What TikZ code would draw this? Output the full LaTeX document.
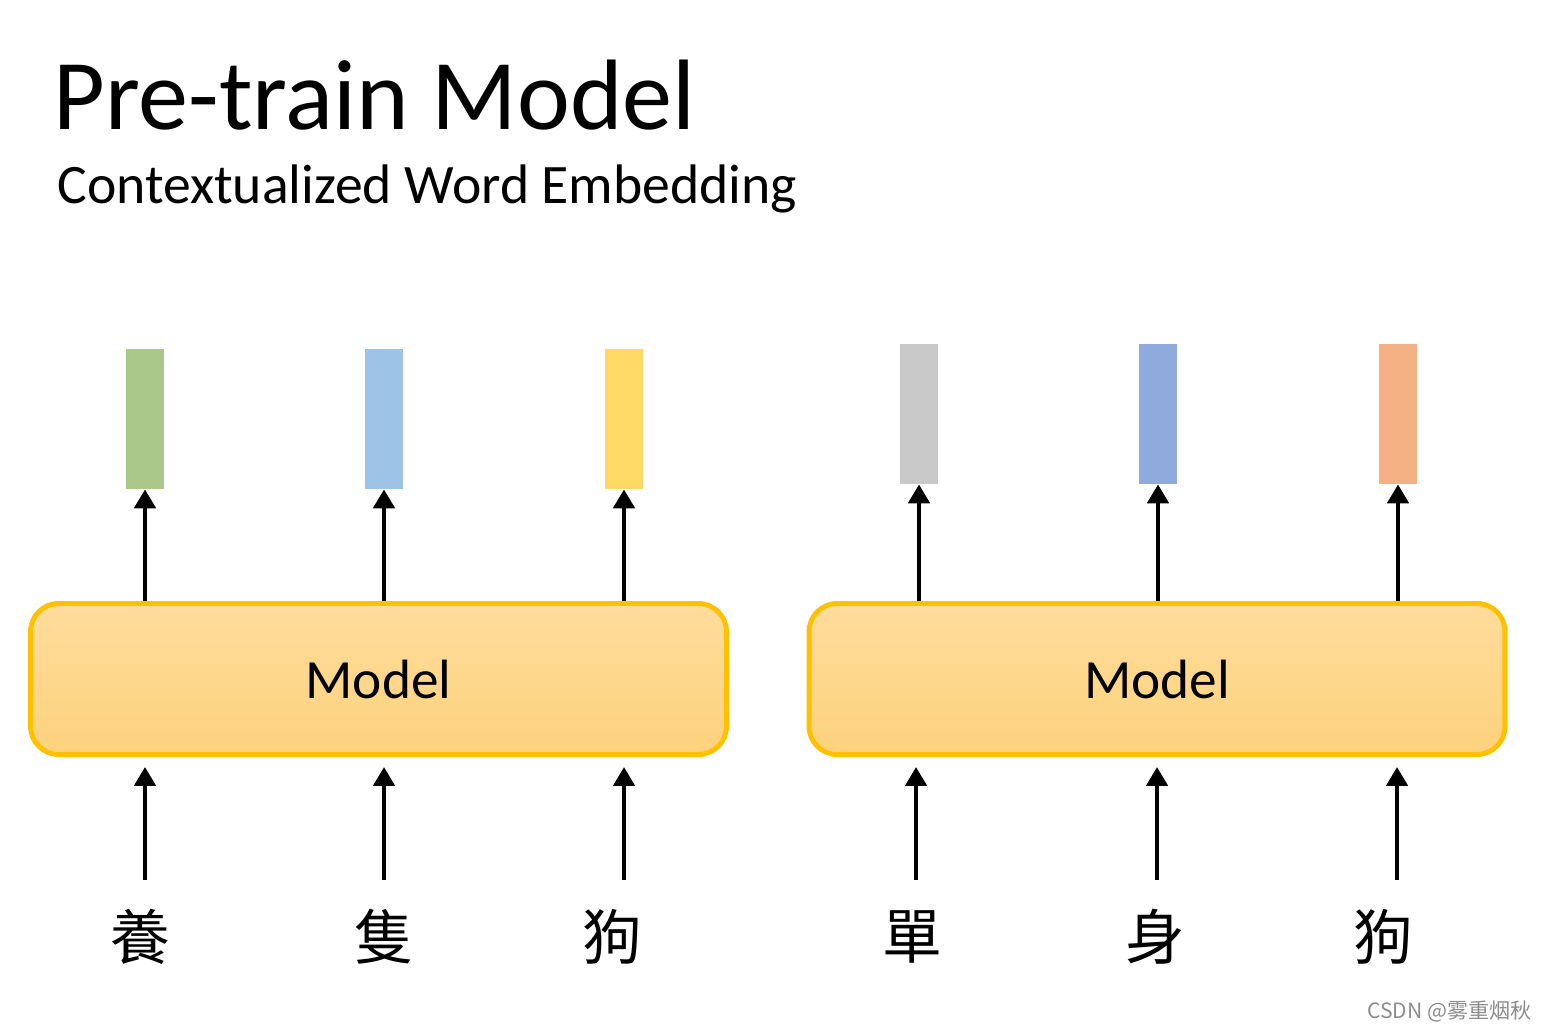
\documentclass[tikz,border=0pt]{standalone}
\usepackage{fontspec}
\setmainfont{Carlito}
\newfontfamily\cjktc{Noto Sans CJK TC}
\newfontfamily\cjksc{Noto Sans CJK SC}
\usetikzlibrary{arrows.meta}
\definecolor{vgreen}{HTML}{A9C88A}
\definecolor{vblue}{HTML}{9DC3E6}
\definecolor{vyellow}{HTML}{FFD966}
\definecolor{vgray}{HTML}{C9C9C9}
\definecolor{vdblue}{HTML}{8FAADC}
\definecolor{vorange}{HTML}{F4B183}
\definecolor{modelline}{HTML}{FFC000}
\definecolor{modeltop}{HTML}{FEDC9C}
\definecolor{modelbot}{HTML}{FDD27C}
\tikzset{
  vec/.style={minimum width=0.76cm, minimum height=2.8cm, inner sep=0pt},
  model/.style={draw=modelline, line width=2.8pt, rounded corners=0.56cm,
    top color=modeltop, bottom color=modelbot,
    minimum width=13.92cm, minimum height=3.02cm,
    font=\fontsize{31.5}{38}\selectfont},
  word/.style={font=\cjktc\fontsize{34}{40}\selectfont, inner sep=0pt},
  arr/.style={-{Triangle[length=0.38cm,width=0.42cm]}, line width=2.8pt}
}
\begin{document}
\begin{tikzpicture}[x=0.02cm, y=-0.02cm]
\useasboundingbox (0,0) rectangle (1547,1030);
% title
\node[anchor=base west, inner sep=0pt, font=\fontsize{57}{66}\selectfont] (title) at (53,130) {Pre-train Model};
\node[anchor=base west, inner sep=0pt, font=\fontsize{31.7}{38}\selectfont] (sub) at (57,204) {Contextualized Word Embedding};
% left model
\node[model] (m1) at (378.5,679) {Model};
\node[vec, fill=vgreen] (v1) at (145,419) {};
\node[vec, fill=vblue] (v2) at (384,419) {};
\node[vec, fill=vyellow] (v3) at (624,419) {};
\node[word] (w1) at (140,937) {養};
\node[word] (w2) at (384,937) {隻};
\node[word] (w3) at (612,937) {狗};
% right model
\node[model] (m2) at (1157,679) {Model};
\node[vec, fill=vgray] (v4) at (919,414) {};
\node[vec, fill=vdblue] (v5) at (1158,414) {};
\node[vec, fill=vorange] (v6) at (1398,414) {};
\node[word] (w4) at (912,937) {單};
\node[word] (w5) at (1155,937) {身};
\node[word] (w6) at (1383,937) {狗};
% arrows up to the vectors
\draw[arr] (v1 |- m1.north) -- (v1.south);
\draw[arr] (v2 |- m1.north) -- (v2.south);
\draw[arr] (v3 |- m1.north) -- (v3.south);
\draw[arr] (v4 |- m2.north) -- (v4.south);
\draw[arr] (v5 |- m2.north) -- (v5.south);
\draw[arr] (v6 |- m2.north) -- (v6.south);
% arrows from the words
\coordinate (b1) at (145,880);
\coordinate (b2) at (384,880);
\coordinate (b3) at (624,880);
\coordinate (b4) at (916,880);
\coordinate (b5) at (1157,880);
\coordinate (b6) at (1397,880);
\draw[arr] (b1) -- ([yshift=-0.2cm]b1 |- m1.south);
\draw[arr] (b2) -- ([yshift=-0.2cm]b2 |- m1.south);
\draw[arr] (b3) -- ([yshift=-0.2cm]b3 |- m1.south);
\draw[arr] (b4) -- ([yshift=-0.2cm]b4 |- m2.south);
\draw[arr] (b5) -- ([yshift=-0.2cm]b5 |- m2.south);
\draw[arr] (b6) -- ([yshift=-0.2cm]b6 |- m2.south);
% watermark
\node[anchor=base east, inner sep=0pt, text=black!45, font=\cjksc\fontsize{12}{14}\selectfont] (mark) at (1532,1018) {CSDN @雾重烟秋};
\end{tikzpicture}
\end{document}
